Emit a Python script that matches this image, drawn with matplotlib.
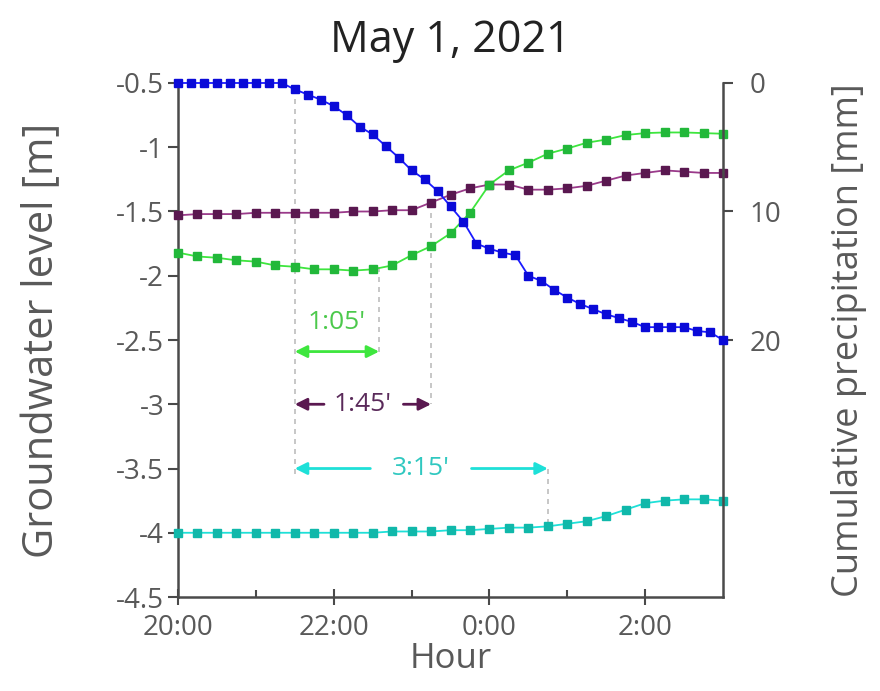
import numpy as np
import matplotlib
matplotlib.use("Agg")
import matplotlib.pyplot as plt
from matplotlib.ticker import FixedLocator

plt.rcParams['font.family'] = ['Open Sans', 'DejaVu Sans']

# Time axis: hours after 20:00
hour_ticks = [0, 2, 4, 6]
hour_labels = ['20:00', '22:00', '0:00', '2:00']
minor_hours = [1, 3, 5]

# Cumulative precipitation [mm], every 10 minutes from 20:00 to 03:00
precip_hours = np.arange(0, 7 + 1e-9, 10 / 60)
precip_mm = [0, 0, 0, 0, 0, 0, 0, 0, 0,
             0.5, 0.9, 1.3, 1.8, 2.5, 3.4, 4.0, 4.9, 5.8, 6.8, 7.5, 8.4, 9.6,
             10.8, 12.5, 12.9, 13.2, 13.4, 15.0, 15.4, 16.1, 16.7, 17.2, 17.6,
             18.0, 18.3, 18.6, 19.0, 19.0, 19.0, 19.0, 19.3, 19.4, 20.0]

# Groundwater levels [m], every 15 minutes from 20:00 to 03:00
well_hours = np.arange(0, 7 + 1e-9, 0.25)
well_purple = [-1.53, -1.52, -1.52, -1.52, -1.51, -1.51, -1.51, -1.51, -1.51,
               -1.50, -1.50, -1.49, -1.49, -1.43, -1.37, -1.32, -1.29, -1.29,
               -1.33, -1.33, -1.32, -1.30, -1.26, -1.22, -1.20, -1.18, -1.19,
               -1.20, -1.20]
well_green = [-1.82, -1.85, -1.86, -1.88, -1.89, -1.92, -1.93, -1.95, -1.95,
              -1.96, -1.95, -1.92, -1.84, -1.77, -1.67, -1.51, -1.29, -1.18,
              -1.12, -1.05, -1.01, -0.965, -0.94, -0.905, -0.89, -0.885,
              -0.885, -0.89, -0.895]
well_cyan = [-4.00, -4.00, -4.00, -4.00, -4.00, -4.00, -4.00, -4.00, -4.00,
             -4.00, -4.00, -3.99, -3.99, -3.99, -3.98, -3.98, -3.97, -3.96,
             -3.96, -3.95, -3.93, -3.91, -3.87, -3.82, -3.77, -3.75, -3.74,
             -3.74, -3.75]

# Response delays (start of rain at 21:30)
rain_start = 1.5
lag_labels = ["1:05'", "1:45'", "3:15'"]
lag_minutes = [65, 105, 195]

c_blue, c_blue_m = '#1a1aff', '#0a0ad8'
c_purple, c_purple_m = '#9a3a8a', '#5a1850'
c_green, c_green_m = '#3ee63e', '#22b83a'
c_cyan, c_cyan_m = '#1ee0d8', '#10b8aa'
axis_col = '#4a4a4a'
text_col = '#595959'
guide_col = '#bdbdbd'

fig = plt.figure(figsize=(8.8, 6.91), dpi=100)
ax = fig.add_axes([0.2023, 0.136, 0.6193, 0.7439])
ax2 = ax.twinx()

ax.set_xlim(0, 7)
ax.set_ylim(-4.5, -0.5)
ax2.set_ylim(40, 0)

# Guide lines from rain onset and each response
lag_h = [m / 60 for m in lag_minutes]
gkw = dict(color=guide_col, lw=1.2, ls=(0, (3, 3)), zorder=1)
ax.plot([rain_start, rain_start], [-0.55, -3.55], **gkw)
ax.plot([rain_start + lag_h[0]] * 2, [-1.93, -2.6], **gkw)
ax.plot([rain_start + lag_h[1]] * 2, [-1.43, -3.0], **gkw)
ax.plot([rain_start + lag_h[2]] * 2, [-3.5, -3.95], **gkw)

mk = dict(marker='s', markersize=6, lw=1.3, zorder=3, clip_on=False)
ax.plot(well_hours, well_purple, color=c_purple, mfc=c_purple_m, mec=c_purple_m, **mk)
ax.plot(well_hours, well_green, color=c_green, mfc=c_green_m, mec=c_green_m, **mk)
ax.plot(well_hours, well_cyan, color=c_cyan, mfc=c_cyan_m, mec=c_cyan_m, **mk)
ax2.plot(precip_hours, precip_mm, color=c_blue, mfc=c_blue_m, mec=c_blue_m, **mk)

# Lag arrows
head = dict(mutation_scale=18, shrinkA=0, shrinkB=0, lw=2)
lag_fs = 19
g_end = rain_start + lag_h[0]
ax.annotate('', xy=(g_end, -2.59), xytext=(rain_start, -2.59),
            arrowprops=dict(arrowstyle='<|-|>', color=c_green, **head))
ax.text((rain_start + g_end) / 2, -2.36, lag_labels[0], color='#4cc94c',
        fontsize=lag_fs, ha='center', va='center')

p_end = rain_start + lag_h[1]
p_mid = (rain_start + p_end) / 2
ax.text(p_mid, -3.0, lag_labels[1], color='#5a2a5a', fontsize=lag_fs,
        ha='center', va='center')
ax.annotate('', xy=(rain_start, -3.0), xytext=(p_mid - 0.5, -3.0),
            arrowprops=dict(arrowstyle='-|>', color='#5a1850', **head))
ax.annotate('', xy=(p_end, -3.0), xytext=(p_mid + 0.52, -3.0),
            arrowprops=dict(arrowstyle='-|>', color='#5a1850', **head))

c_end = rain_start + lag_h[2]
c_mid = 3.12
ax.text(c_mid, -3.5, lag_labels[2], color='#30c8c0', fontsize=lag_fs,
        ha='center', va='center')
ax.annotate('', xy=(rain_start, -3.5), xytext=(c_mid - 0.65, -3.5),
            arrowprops=dict(arrowstyle='-|>', color=c_cyan, **head))
ax.annotate('', xy=(c_end, -3.5), xytext=(c_mid + 0.65, -3.5),
            arrowprops=dict(arrowstyle='-|>', color=c_cyan, **head))

# Axes styling
for a in (ax, ax2):
    a.spines['top'].set_visible(False)
    for s in ('left', 'right', 'bottom'):
        a.spines[s].set_color(axis_col)
        a.spines[s].set_linewidth(1.8)
ax.spines['right'].set_visible(False)
ax2.spines['left'].set_visible(False)
ax2.spines['bottom'].set_visible(False)

tick_fs = 20
ax.set_xticks(hour_ticks)
ax.set_xticklabels(hour_labels)
ax.xaxis.set_minor_locator(FixedLocator(minor_hours))
ax.tick_params(axis='x', which='major', direction='inout', length=12, width=1.5,
               colors=axis_col, labelcolor=text_col, labelsize=tick_fs, pad=6)
ax.tick_params(axis='x', which='minor', direction='in', length=5, width=1.5,
               colors=axis_col)
ax.set_yticks([-4.5, -4, -3.5, -3, -2.5, -2, -1.5, -1, -0.5])
ax.set_yticklabels(['-4.5', '-4', '-3.5', '-3', '-2.5', '-2', '-1.5', '-1', '-0.5'])
ax.tick_params(axis='y', direction='out', length=7, width=1.5,
               colors=axis_col, labelcolor=text_col, labelsize=20, pad=3)
ax2.set_yticks([0, 10, 20])
ax2.tick_params(axis='y', direction='out', length=7, width=1.5,
                colors=axis_col, labelcolor=text_col, labelsize=tick_fs, pad=12)

ax.set_xlabel('Hour', fontsize=25, color=text_col, labelpad=0)
ax.set_ylabel('Groundwater level [m]', fontsize=30, color=text_col, labelpad=38)
ax2.set_ylabel('Cumulative precipitation [mm]', fontsize=26, color=text_col,
               labelpad=36)
ax.set_title('May 1, 2021', fontsize=31, color='#222222', pad=22)

fig.savefig('out.png', dpi=100, facecolor='white')
